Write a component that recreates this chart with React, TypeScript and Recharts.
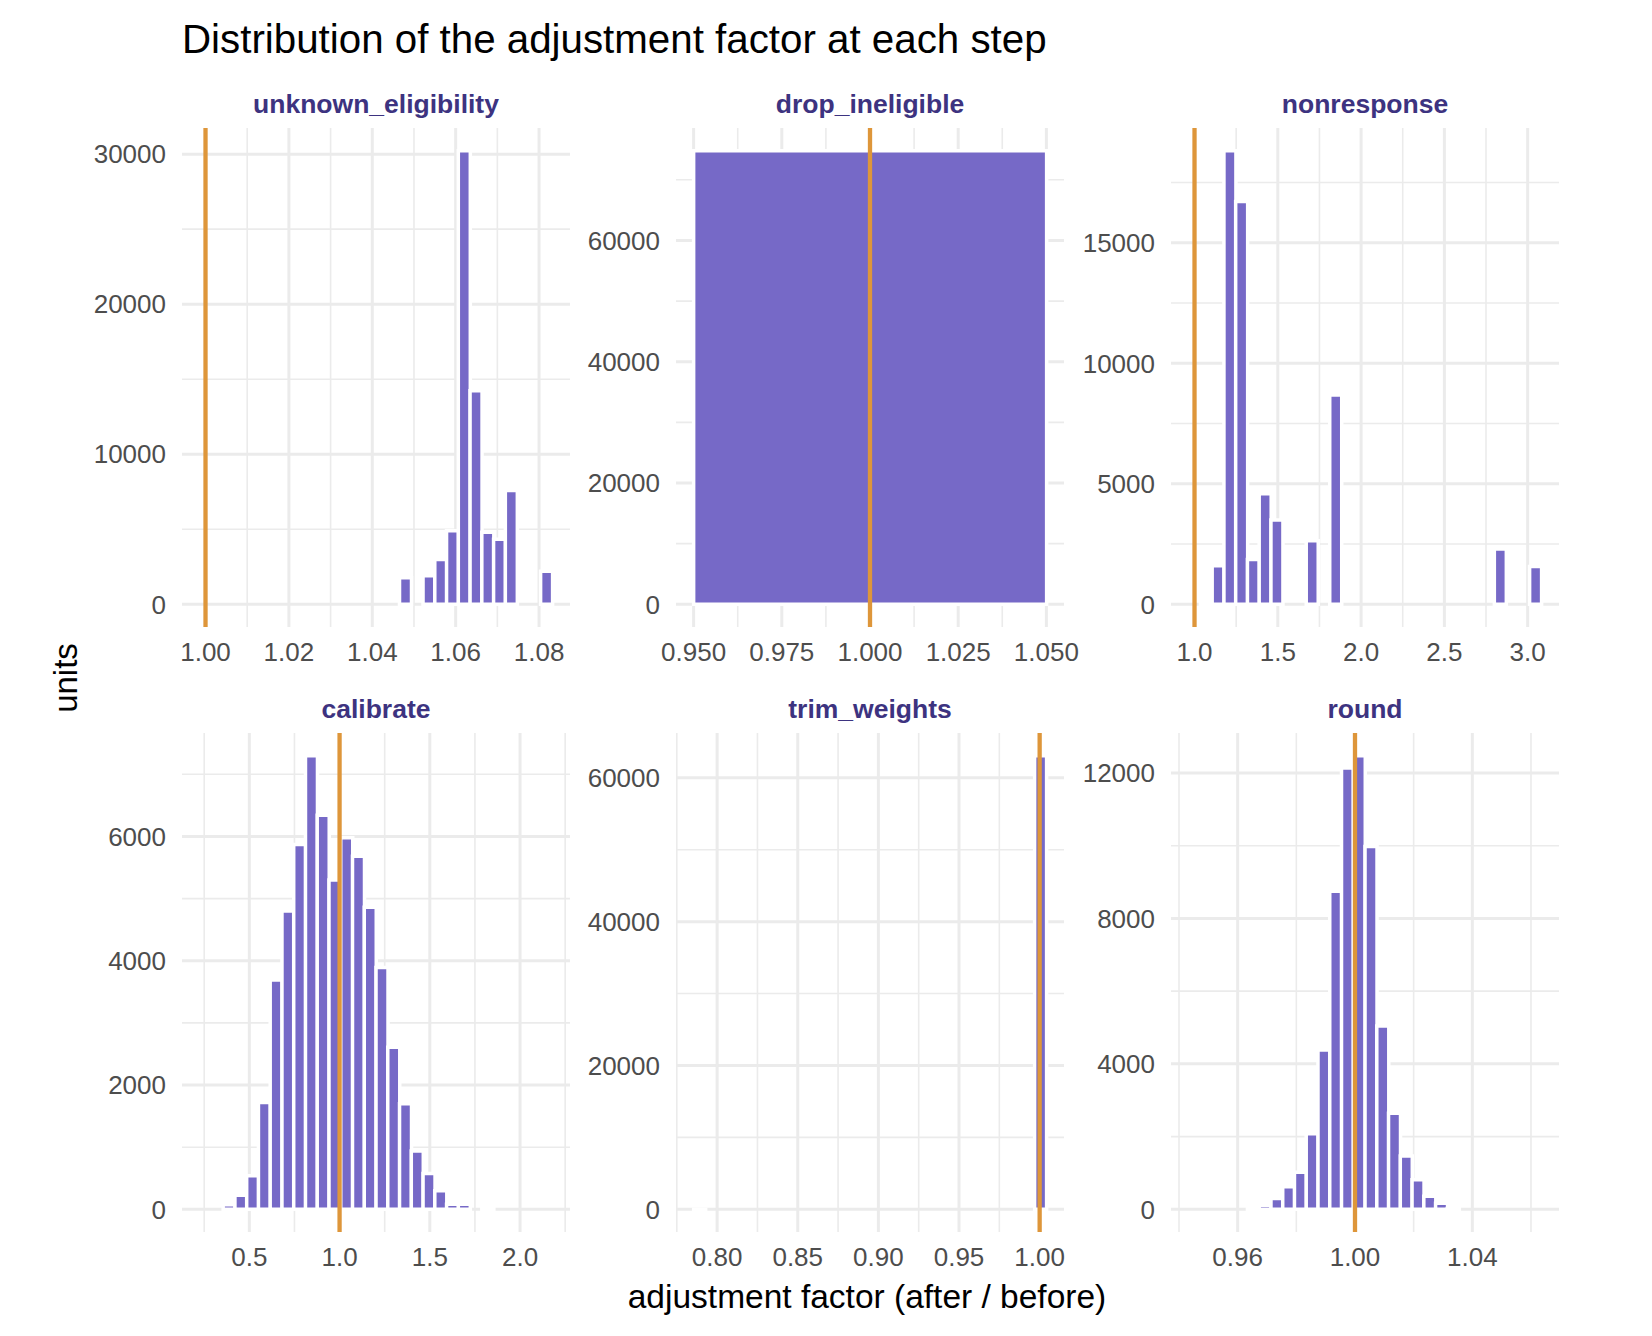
import React from 'react';
import { ComposedChart, Bar, XAxis, YAxis, CartesianGrid, ReferenceLine } from 'recharts';

// histogram bins (bin centres) and counts per adjustment step
const unknownBins = [1.04794, 1.05076, 1.05358, 1.0564, 1.05922, 1.06204, 1.06486, 1.06768, 1.0705, 1.07332, 1.07614, 1.07896, 1.08178];
const unknownCounts = [1770, 0, 1900, 2980, 4910, 30230, 14230, 4800, 4340, 7580, 0, 0, 2210];

const dropBins = [0.9, 1.0, 1.1];
const dropCounts = [0, 74800, 0];

const nonrespBins = [1.0706, 1.1412, 1.2118, 1.2823, 1.3529, 1.4235, 1.4941, 1.5647, 1.6353, 1.7059, 1.7764, 1.847, 2.8352, 2.9058, 2.9764, 3.047];
const nonrespCounts = [100, 1600, 18820, 16710, 1860, 4590, 3500, 0, 0, 2640, 0, 8680, 2290, 0, 0, 1570];

const calibBins = [0.3875, 0.4527, 0.5178, 0.583, 0.6481, 0.7133, 0.7784, 0.8436, 0.9087, 0.9739, 1.039, 1.1042, 1.1693, 1.2345, 1.2996, 1.3648, 1.4299, 1.4951, 1.5602, 1.6254, 1.6905, 1.7557, 1.8208];
const calibCounts = [75, 225, 540, 1720, 3690, 4800, 5870, 7300, 6340, 5300, 5980, 5680, 4860, 3890, 2610, 1700, 940, 575, 300, 80, 80, 0, 20];

const trimBins = [0.7891, 0.99323, 1.00052];
const trimCounts = [3, 0, 63080];

const roundBins = [0.96533, 0.96934, 0.97335, 0.97736, 0.98136, 0.98537, 0.98938, 0.99339, 0.9974, 1.00141, 1.00542, 1.00943, 1.01343, 1.01744, 1.02145, 1.02546, 1.02947, 1.03348];
const roundCounts = [30, 113, 294, 621, 1017, 2079, 4384, 8746, 12136, 12475, 9978, 5040, 2644, 1469, 814, 362, 170, 20];

const PLOT_W = 388;
const PLOT_H = 499;
const AXIS_W = 110;
const XAXIS_H = 60;
const RIGHT_PAD = 50;
const COL_LEFT = [182, 676, 1171];
const ROW_TOP = [128, 733];

const BAR = '#7669C7';
const VLINE = '#DE963A';
const GRID = '#EBEBEB';
const STRIP = '#3D3380';
const FONT = '"Liberation Sans", Arial, Helvetica, sans-serif';

interface PanelSpec {
  title: string;
  bins: number[];
  counts: number[];
  xDomain: [number, number];
  yDomain: [number, number];
  xTicks: number[];
  xMinor: number[];
  yTicks: number[];
  yMinor: number[];
  digits: number;
  col: number;
  row: number;
}

const panels: PanelSpec[] = [
  {
    title: 'unknown_eligibility', bins: unknownBins, counts: unknownCounts,
    xDomain: [0.99436, 1.08742], yDomain: [-1512, 31742],
    xTicks: [1.0, 1.02, 1.04, 1.06, 1.08], xMinor: [1.01, 1.03, 1.05, 1.07],
    yTicks: [0, 10000, 20000, 30000], yMinor: [5000, 15000, 25000],
    digits: 2, col: 0, row: 0,
  },
  {
    title: 'drop_ineligible', bins: dropBins, counts: dropCounts,
    xDomain: [0.945, 1.055], yDomain: [-3740, 78540],
    xTicks: [0.95, 0.975, 1.0, 1.025, 1.05], xMinor: [0.9625, 0.9875, 1.0125, 1.0375],
    yTicks: [0, 20000, 40000, 60000], yMinor: [10000, 30000, 50000, 70000],
    digits: 3, col: 1, row: 0,
  },
  {
    title: 'nonresponse', bins: nonrespBins, counts: nonrespCounts,
    xDomain: [0.8588, 3.1882], yDomain: [-941, 19761],
    xTicks: [1.0, 1.5, 2.0, 2.5, 3.0], xMinor: [1.25, 1.75, 2.25, 2.75],
    yTicks: [0, 5000, 10000, 15000], yMinor: [2500, 7500, 12500, 17500],
    digits: 1, col: 2, row: 0,
  },
  {
    title: 'calibrate', bins: calibBins, counts: calibCounts,
    xDomain: [0.1269, 2.2768], yDomain: [-365, 7665],
    xTicks: [0.5, 1.0, 1.5, 2.0], xMinor: [0.25, 0.75, 1.25, 1.75, 2.25],
    yTicks: [0, 2000, 4000, 6000], yMinor: [1000, 3000, 5000, 7000],
    digits: 1, col: 0, row: 1,
  },
  {
    title: 'trim_weights', bins: trimBins, counts: trimCounts,
    xDomain: [0.7745, 1.0151], yDomain: [-3154, 66234],
    xTicks: [0.8, 0.85, 0.9, 0.95, 1.0], xMinor: [0.775, 0.825, 0.875, 0.925, 0.975],
    yTicks: [0, 20000, 40000, 60000], yMinor: [10000, 30000, 50000],
    digits: 2, col: 1, row: 1,
  },
  {
    title: 'round', bins: roundBins, counts: roundCounts,
    xDomain: [0.93727, 1.06955], yDomain: [-624, 13099],
    xTicks: [0.96, 1.0, 1.04], xMinor: [0.94, 0.98, 1.02, 1.06],
    yTicks: [0, 4000, 8000, 12000], yMinor: [2000, 6000, 10000],
    digits: 2, col: 2, row: 1,
  },
];

const tickStyle = { fontSize: 26, fill: '#4D4D4D', fontFamily: FONT };

const Panel = ({ spec }: { spec: PanelSpec }) => {
  const data = spec.bins.map((x, i) => ({ x, n: spec.counts[i] }));
  const left = COL_LEFT[spec.col];
  const top = ROW_TOP[spec.row];
  return (
    <div style={{ position: 'absolute', left: left - AXIS_W, top }}>
      <ComposedChart
        width={PLOT_W + AXIS_W + RIGHT_PAD}
        height={PLOT_H + XAXIS_H}
        data={data}
        margin={{ top: 0, right: RIGHT_PAD, bottom: 0, left: 0 }}
        barCategoryGap={0}
      >
        <CartesianGrid stroke={GRID} strokeWidth={1.6} verticalValues={spec.xMinor} horizontalValues={spec.yMinor} />
        <CartesianGrid stroke={GRID} strokeWidth={3} verticalValues={spec.xTicks} horizontalValues={spec.yTicks} />
        <XAxis
          type="number"
          dataKey="x"
          domain={spec.xDomain}
          allowDataOverflow
          ticks={spec.xTicks}
          interval={0}
          tickFormatter={(v: number) => v.toFixed(spec.digits)}
          axisLine={false}
          tickLine={false}
          tickSize={0}
          tickMargin={16}
          height={XAXIS_H}
          tick={tickStyle}
        />
        <YAxis
          type="number"
          domain={spec.yDomain}
          allowDataOverflow
          ticks={spec.yTicks}
          interval={0}
          axisLine={false}
          tickLine={false}
          tickSize={0}
          tickMargin={16}
          width={AXIS_W}
          tick={tickStyle}
        />
        <Bar dataKey="n" fill={BAR} stroke="#FFFFFF" strokeWidth={3.5} isAnimationActive={false} />
        <ReferenceLine x={1} stroke={VLINE} strokeWidth={4.3} />
      </ComposedChart>
    </div>
  );
};

export default function App() {
  return (
    <div style={{ position: 'absolute', left: 0, top: 0, width: 1652, height: 1336, background: '#fff', fontFamily: FONT }}>
      {panels.map((p) => (
        <Panel key={p.title} spec={p} />
      ))}
      <svg width={1652} height={1336} style={{ position: 'absolute', left: 0, top: 0, pointerEvents: 'none' }}>
        <text x={182} y={53} fontSize={40.3} fill="#000" fontFamily={FONT}>
          Distribution of the adjustment factor at each step
        </text>
        {panels.map((p) => (
          <text
            key={p.title}
            x={COL_LEFT[p.col] + PLOT_W / 2}
            y={ROW_TOP[p.row] - 15}
            textAnchor="middle"
            fontSize={26.5}
            fontWeight="bold"
            fill={STRIP}
            fontFamily={FONT}
          >
            {p.title}
          </text>
        ))}
        <text x={867} y={1308} textAnchor="middle" fontSize={33.5} fill="#000" fontFamily={FONT}>
          adjustment factor (after / before)
        </text>
        <text transform="translate(77,678) rotate(-90)" textAnchor="middle" fontSize={33} fill="#000" fontFamily={FONT}>
          units
        </text>
      </svg>
    </div>
  );
}
